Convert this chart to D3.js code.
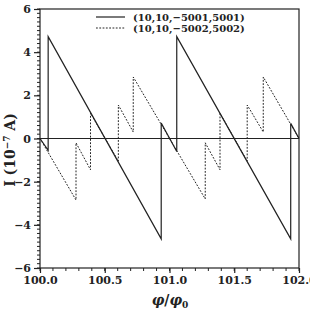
<!DOCTYPE html>
<html><head><meta charset="utf-8">
<script src="https://cdn.jsdelivr.net/npm/d3@7"></script>
<style>body{margin:0;background:#fff}svg{display:block}</style>
</head><body>
<svg id="c" width="310" height="310"></svg>
<script>
const seriesNames = ["(10,10,\u22125001,5001)", "(10,10,\u22125002,5002)"];
const solidX = [100.0, 100.063, 100.063, 100.936, 100.936, 101.056, 101.056, 101.936, 101.936, 102.0];
const solidY = [0.0, -0.55, 4.72, -4.65, 0.72, -0.6, 4.72, -4.65, 0.7, 0.0];
const dotX = [100.0, 100.278, 100.278, 100.39, 100.39, 100.605, 100.605, 100.72, 100.72, 101.276, 101.276, 101.39, 101.39, 101.6, 101.6, 101.724, 101.724, 102.0];
const dotY = [0.0, -2.85, -0.2, -1.45, 1.17, -1.05, 1.55, 0.3, 2.85, -2.8, -0.2, -1.45, 1.17, -1.05, 1.55, 0.3, 2.85, 0.0];
const xTicks = [100.0, 100.5, 101.0, 101.5, 102.0];
const xTickLabels = ["100.0", "100.5", "101.0", "101.5", "102.0"];
const yTicks = [-6, -4, -2, 0, 2, 4, 6];
const yTickLabels = ["\u22126", "\u22124", "\u22122", "0", "2", "4", "6"];

const svg = d3.select("#c");
const L = 40, R = 299, T = 9, B = 268;
const x = d3.scaleLinear().domain([100, 102]).range([L, R]);
const y = d3.scaleLinear().domain([-6, 6]).range([B, T]);
const font = "'DejaVu Serif', serif";
const ink = "#222";

// frame
svg.append("rect").attr("x", L).attr("y", T).attr("width", R - L).attr("height", B - T)
  .attr("fill", "none").attr("stroke", ink).attr("stroke-width", 1.2);

// minor ticks
const xMinor = d3.range(100, 102.0001, 0.1);
const yMinor = d3.range(-6, 6.0001, 0.2);
svg.append("g").selectAll("line").data(xMinor).join("line")
  .attr("x1", d => x(d)).attr("x2", d => x(d)).attr("y1", B).attr("y2", B + 3)
  .attr("stroke", ink).attr("stroke-width", 1);
svg.append("g").selectAll("line").data(yMinor).join("line")
  .attr("y1", d => y(d)).attr("y2", d => y(d)).attr("x1", L - 3).attr("x2", L)
  .attr("stroke", ink).attr("stroke-width", 1);

// major axes
const xAxis = d3.axisBottom(x).tickValues(xTicks).tickFormat((d, i) => xTickLabels[i]).tickSize(5).tickPadding(3);
const yAxis = d3.axisLeft(y).tickValues(yTicks).tickFormat((d, i) => yTickLabels[i]).tickSize(6).tickPadding(3);
const gx = svg.append("g").attr("transform", `translate(0,${B})`).call(xAxis);
const gy = svg.append("g").attr("transform", `translate(${L},0)`).call(yAxis);
[gx, gy].forEach(g => {
  g.select(".domain").remove();
  g.selectAll("line").attr("stroke", ink).attr("stroke-width", 1.2);
  g.selectAll("text").attr("fill", ink).attr("font-family", font).attr("font-weight", "bold").attr("font-size", 11);
});

// zero line
svg.append("line").attr("x1", x(100)).attr("x2", x(102)).attr("y1", y(0)).attr("y2", y(0))
  .attr("stroke", ink).attr("stroke-width", 1);

const line = d3.line().x(d => x(d[0])).y(d => y(d[1]));
const solidData = solidX.map((v, i) => [v, solidY[i]]);
const dotData = dotX.map((v, i) => [v, dotY[i]]);
svg.append("path").datum(solidData).attr("d", line).attr("fill", "none")
  .attr("stroke", ink).attr("stroke-width", 1.2);
svg.append("path").datum(dotData).attr("d", line).attr("fill", "none")
  .attr("stroke", ink).attr("stroke-width", 1).attr("stroke-dasharray", "1.8,1.5");

// legend
const lg = svg.append("g");
[[17, null], [28, "1.8,1.5"]].forEach(([ly, dash], i) => {
  const l = lg.append("line").attr("x1", 96).attr("x2", 125).attr("y1", ly).attr("y2", ly)
    .attr("stroke", ink).attr("stroke-width", i ? 1 : 1.2);
  if (dash) l.attr("stroke-dasharray", dash);
  lg.append("text").attr("x", 133).attr("y", ly + 4).text(seriesNames[i])
    .attr("font-family", font).attr("font-weight", "bold").attr("font-size", 10).attr("fill", ink);
});

// axis titles
const xt = svg.append("text").attr("x", 170).attr("y", 305).attr("text-anchor", "middle")
  .attr("font-family", font).attr("font-weight", "bold").attr("font-size", 14).attr("fill", ink);
xt.append("tspan").attr("font-style", "italic").text("\u03c6");
xt.append("tspan").text("/");
xt.append("tspan").attr("font-style", "italic").text("\u03c6");
xt.append("tspan").attr("font-size", 9).attr("dy", 3).text("0");

const yt = svg.append("text").attr("transform", "translate(15,150) rotate(-90)").attr("text-anchor", "middle")
  .attr("font-family", font).attr("font-weight", "bold").attr("font-size", 14).attr("fill", ink);
yt.append("tspan").text("I (10");
yt.append("tspan").attr("font-size", 9).attr("dy", -5).text("\u22127");
yt.append("tspan").attr("dy", 5).text(" A)");
</script>
</body></html>
